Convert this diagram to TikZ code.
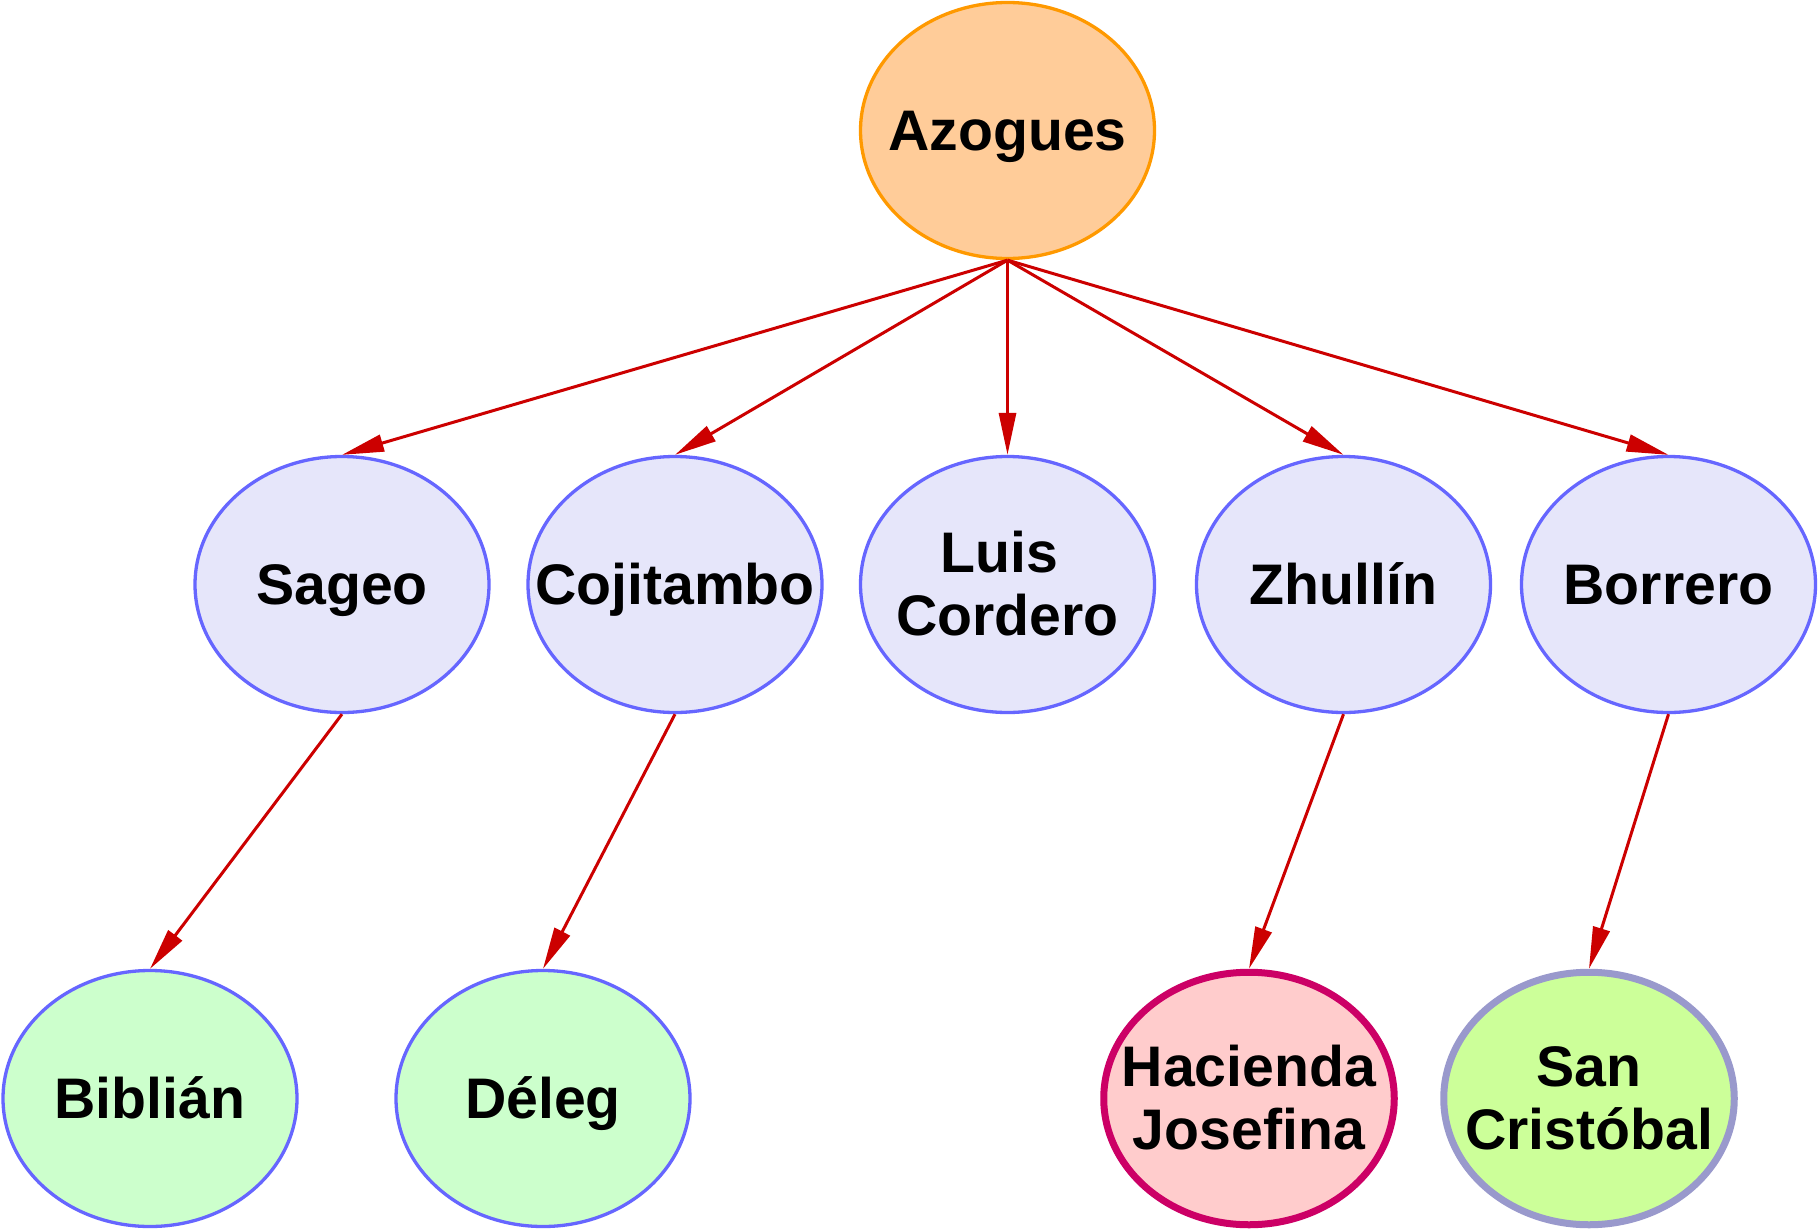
\documentclass[tikz,border=0pt]{standalone}
\usepackage{fontspec}
\setmainfont{Liberation Sans}
\usetikzlibrary{shapes.geometric,arrows.meta}
\definecolor{edgered}{HTML}{CC0000}
\definecolor{azfill}{HTML}{FFCC99}
\definecolor{azdraw}{HTML}{FF9900}
\definecolor{midfill}{HTML}{E6E6FA}
\definecolor{bluedraw}{HTML}{6666FF}
\definecolor{greenfill}{HTML}{CCFFCC}
\definecolor{pinkfill}{HTML}{FFCCCC}
\definecolor{pinkdraw}{HTML}{CC0066}
\definecolor{limefill}{HTML}{CCFF99}
\definecolor{greydraw}{HTML}{9999CC}
\newcommand\lblone[1]{\raisebox{-20pt}[0pt][0pt]{#1}}
\newcommand\lbltwo[2]{\raisebox{-51pt}[0pt][0pt]{\begin{tabular}[b]{@{}c@{}}#1\\#2\end{tabular}}}
\begin{document}
\begin{tikzpicture}[x=1pt,y=-1pt,
  ell/.style={ellipse, line width=3.3pt, minimum width=294pt, minimum height=256pt, inner sep=0pt},
  thickell/.style={ellipse, line width=7pt, minimum width=290.5pt, minimum height=252.5pt, inner sep=0pt},
  lbl/.style={inner sep=0pt, font=\fontsize{57.2}{63}\selectfont\bfseries},
  edge/.style={draw=edgered, line width=3pt, line join=miter, -{Triangle[length=42pt,width=17pt]}}]
\fill[white] (0,0) rectangle (1818,1231);
\useasboundingbox (0,0) rectangle (1818,1231);
% nodes
\node[ell, draw=azdraw, fill=azfill] (az) at (1007.5,130.5) {};
\node[ell, draw=bluedraw, fill=midfill] (sag) at (342,584.5) {};
\node[ell, draw=bluedraw, fill=midfill] (coj) at (675,584.5) {};
\node[ell, draw=bluedraw, fill=midfill] (lui) at (1007.5,584.5) {};
\node[ell, draw=bluedraw, fill=midfill] (zhu) at (1343.5,584.5) {};
\node[ell, draw=bluedraw, fill=midfill] (bor) at (1668.5,584.5) {};
\node[ell, draw=bluedraw, fill=greenfill] (bib) at (150,1098.5) {};
\node[ell, draw=bluedraw, fill=greenfill] (del) at (543,1098.5) {};
\node[thickell, draw=pinkdraw, fill=pinkfill] (hac) at (1249,1098.5) {};
\node[thickell, draw=greydraw, fill=limefill] (san) at (1589,1098.5) {};
% labels
\node[lbl] (az-t) at (az.center) {\lblone{Azogues}};
\node[lbl] (sag-t) at (sag.center) {\lblone{Sageo}};
\node[lbl] (coj-t) at (coj.center) {\lblone{Cojitambo}};
\node[lbl] (lui-t) at (lui.center) {\lbltwo{Luis\kern0.278em}{Cordero}};
\node[lbl] (zhu-t) at (zhu.center) {\lblone{Zhullín}};
\node[lbl] (bor-t) at (bor.center) {\lblone{Borrero}};
\node[lbl] (bib-t) at (bib.center) {\lblone{Biblián}};
\node[lbl] (del-t) at (del.center) {\lblone{Déleg}};
\node[lbl] (hac-t) at (hac.center) {\lbltwo{Hacienda}{Josefina}};
\node[lbl] (san-t) at (san.center) {\lbltwo{San}{Cristóbal}};
% edges
\draw[edge] (az.south) -- (sag.north);
\draw[edge] (az.south) -- (coj.north);
\draw[edge] (az.south) -- (lui.north);
\draw[edge] (az.south) -- (zhu.north);
\draw[edge] (az.south) -- (bor.north);
\draw[edge] (sag.south) -- (bib.north);
\draw[edge] (coj.south) -- (del.north);
\draw[edge] (zhu.south) -- (hac.north);
\draw[edge] (bor.south) -- (san.north);
\end{tikzpicture}
\end{document}
